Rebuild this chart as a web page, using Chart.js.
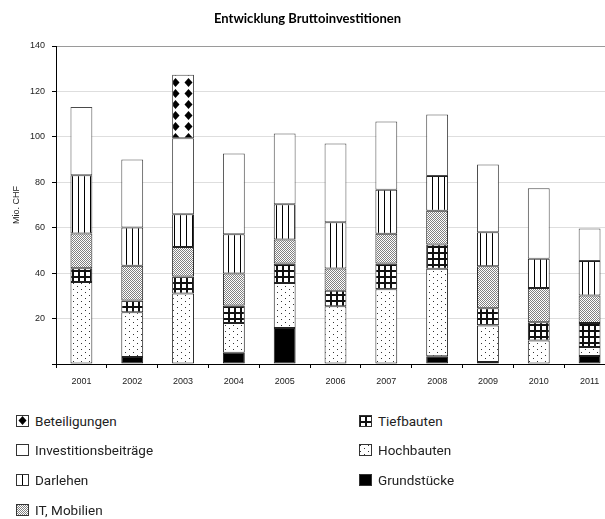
<!DOCTYPE html>
<html>
<head>
<meta charset="utf-8">
<script src="https://cdn.jsdelivr.net/npm/chart.js@4/dist/chart.umd.min.js"></script>
<style>
  html, body { margin: 0; padding: 0; overflow: hidden; background: #fff; }
  #wrap { position: relative; width: 605px; height: 519px; overflow: hidden; }
  #chart { position: absolute; left: 0; top: 0; }
  .item { position: absolute; height: 20px; display: flex; align-items: center;
          font-family: Roboto, sans-serif; font-size: 13.5px; color: #222; white-space: nowrap; }
  .item canvas { margin-right: 6px; }
</style>
</head>
<body>
<div id="wrap">
  <canvas id="chart" width="616" height="395"></canvas>
  <div id="legend"></div>
</div>
<script>
const years = ["2001", "2002", "2003", "2004", "2005", "2006", "2007", "2008", "2009", "2010", "2011"];
const grundstuecke = [0, 3.1, 0, 5.0, 15.9, 0, 0, 3.4, 0.9, 0, 3.5];
const hochbauten = [36.1, 19.7, 31.0, 13.1, 19.8, 25.4, 32.9, 38.5, 16.0, 10.3, 4.0];
const tiefbauten = [6.0, 5.2, 7.5, 7.6, 8.5, 6.8, 11.3, 10.7, 7.6, 8.1, 10.6];
const itMobilien = [15.3, 15.3, 13.0, 14.1, 10.6, 9.8, 13.1, 14.9, 18.5, 15.1, 12.1];
const darlehen = [25.7, 16.8, 14.4, 17.3, 15.5, 20.4, 19.4, 15.3, 15.0, 12.8, 15.2];
const investitionsbeitraege = [30.0, 29.9, 33.5, 35.6, 31.2, 34.7, 30.1, 27.0, 29.8, 31.1, 14.2];
const beteiligungen = [0, 0, 27.9, 0, 0, 0, 0, 0, 0, 0, 0];
const yTicks = [0, 20, 40, 60, 80, 100, 120, 140];

// small tiles used as fill patterns
function tile(w, h, draw) {
  const c = document.createElement("canvas");
  c.width = w;
  c.height = h;
  const g = c.getContext("2d");
  g.fillStyle = "#fff";
  g.fillRect(0, 0, w, h);
  draw(g);
  return c;
}

const tiles = {
  diamonds: tile(13, 11, (g) => {
    g.fillStyle = "#000";
    g.beginPath();
    g.moveTo(6.5, 1);
    g.lineTo(10.5, 5.5);
    g.lineTo(6.5, 10);
    g.lineTo(2.5, 5.5);
    g.closePath();
    g.fill();
  }),
  white: tile(2, 2, () => {}),
  vlines: tile(6, 1, (g) => {
    g.fillStyle = "#000";
    g.fillRect(0, 0, 1, 1);
  }),
  stipple: tile(2, 2, (g) => {
    g.fillStyle = "#808080";
    g.fillRect(0, 0, 1, 1);
    g.fillRect(1, 1, 1, 1);
  }),
  grid: tile(6, 6, (g) => {
    g.fillStyle = "#111";
    g.fillRect(0, 0, 6, 2);
    g.fillRect(0, 0, 2, 6);
  }),
  dots: tile(8, 6, (g) => {
    g.fillStyle = "#333";
    g.fillRect(1, 1, 1, 1);
    g.fillRect(5, 4, 1, 1);
  }),
  solid: tile(2, 2, (g) => {
    g.fillStyle = "#000";
    g.fillRect(0, 0, 2, 2);
  }),
};

const canvas = document.getElementById("chart");
const ctx = canvas.getContext("2d");
const pat = (name) => ctx.createPattern(tiles[name], "repeat");

const series = [
  { label: "Grundstücke", data: grundstuecke, tile: "solid" },
  { label: "Hochbauten", data: hochbauten, tile: "dots" },
  { label: "Tiefbauten", data: tiefbauten, tile: "grid" },
  { label: "IT, Mobilien", data: itMobilien, tile: "stipple" },
  { label: "Darlehen", data: darlehen, tile: "vlines" },
  { label: "Investitionsbeiträge", data: investitionsbeitraege, tile: "white" },
  { label: "Beteiligungen", data: beteiligungen, tile: "diamonds" },
];

Chart.defaults.font.family = "'Liberation Sans', Arial, sans-serif";
Chart.defaults.color = "#222";

new Chart(canvas, {
  type: "bar",
  data: {
    labels: years,
    datasets: series.map((s) => ({
      label: s.label,
      data: s.data,
      backgroundColor: pat(s.tile),
      borderColor: s.tile === "white" || s.tile === "diamonds" ? "#4a4a4a" : "#222",
      borderWidth: 1,
      borderSkipped: false,
      barPercentage: 0.43,
      categoryPercentage: 1,
    })),
  },
  options: {
    responsive: false,
    animation: false,
    devicePixelRatio: 1,
    layout: { padding: { left: 0, right: 1, top: 0, bottom: 0 } },
    plugins: {
      legend: { display: false },
      tooltip: { enabled: false },
      title: {
        display: true,
        text: "Entwicklung Bruttoinvestitionen",
        color: "#000",
        font: { family: "Lato, sans-serif", size: 13, weight: "bold" },
        padding: { top: 11, bottom: 19.4 },
      },
    },
    scales: {
      x: {
        stacked: true,
        grid: {
          offset: true,
          drawOnChartArea: false,
          tickLength: 4,
          tickColor: "#000",
        },
        border: { color: "#000", width: 1 },
        ticks: { font: { size: 9 }, padding: 8, maxRotation: 0 },
        afterFit: (scale) => {
          scale.height = 31;
        },
      },
      y: {
        stacked: true,
        min: yTicks[0],
        max: yTicks[yTicks.length - 1],
        afterBuildTicks: (scale) => {
          scale.ticks = yTicks.map((v) => ({ value: v }));
        },
        grid: {
          color: (c) => (c.tick && c.tick.value === 140 ? "#9a9a9a" : "#dedede"),
          tickLength: 4,
          tickColor: "#000",
        },
        border: { color: "#000", width: 1 },
        ticks: {
          font: { size: 9 },
          padding: 7,
          callback: (v) => (v === 0 ? "" : v),
        },
        title: {
          display: true,
          text: "Mio. CHF",
          font: { size: 9 },
          padding: { top: 11.5, bottom: 0 },
        },
        afterFit: (scale) => {
          scale.width = 56;
        },
      },
    },
  },
});

// legend below the chart, two columns like the original
const legendRows = [
  { label: "Beteiligungen", x: 16, y: 421 },
  { label: "Investitionsbeiträge", x: 16, y: 450 },
  { label: "Darlehen", x: 16, y: 480 },
  { label: "IT, Mobilien", x: 16, y: 510 },
  { label: "Tiefbauten", x: 359, y: 421 },
  { label: "Hochbauten", x: 359, y: 450 },
  { label: "Grundstücke", x: 359, y: 480 },
];

const legend = document.getElementById("legend");
legendRows.forEach((row) => {
  const s = series.find((d) => d.label === row.label);
  const item = document.createElement("div");
  item.className = "item";
  item.style.left = row.x + "px";
  item.style.top = row.y - 10 + "px";
  const sw = document.createElement("canvas");
  sw.width = 13;
  sw.height = 12;
  const g = sw.getContext("2d");
  g.fillStyle = g.createPattern(tiles[s.tile], "repeat");
  g.fillRect(0, 0, 13, 12);
  g.strokeStyle = "#333";
  g.lineWidth = 1;
  g.strokeRect(0.5, 0.5, 12, 11);
  item.appendChild(sw);
  item.appendChild(document.createTextNode(s.label));
  legend.appendChild(item);
});
</script>
</body>
</html>
